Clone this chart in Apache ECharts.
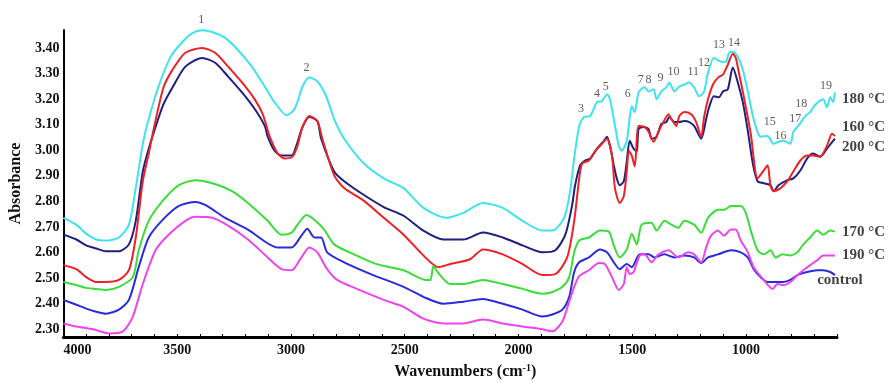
<!DOCTYPE html>
<html>
<head>
<meta charset="utf-8">
<script src="https://cdn.jsdelivr.net/npm/echarts@6/dist/echarts.min.js"></script>
<style>
  html, body { margin: 0; background: #fff; }
  #chart { width: 893px; height: 385px; }
</style>
</head>
<body>
<div id="chart"></div>
<script>
// FTIR spectra, [wavenumber cm-1, absorbance]
const s180 = [[4000,2.736],[3943,2.709],[3900,2.674],[3856,2.651],[3813,2.647],[3756,2.659],[3712,2.709],[3682,2.852],[3651,3.025],[3625,3.122],[3582,3.249],[3529,3.365],[3477,3.423],[3433,3.458],[3390,3.469],[3346,3.462],[3289,3.439],[3233,3.392],[3172,3.327],[3115,3.249],[3072,3.188],[3019,3.137],[2984,3.161],[2949,3.249],[2919,3.284],[2884,3.269],[2845,3.211],[2810,3.122],[2766,3.045],[2679,2.948],[2592,2.890],[2505,2.852],[2418,2.775],[2317,2.736],[2243,2.755],[2156,2.794],[2069,2.775],[1982,2.724],[1895,2.686],[1851,2.686],[1799,2.736],[1773,2.840],[1755,2.968],[1733,3.095],[1712,3.130],[1685,3.134],[1655,3.188],[1633,3.192],[1611,3.219],[1598,3.199],[1581,3.122],[1559,3.018],[1546,2.998],[1524,3.037],[1511,3.130],[1502,3.172],[1489,3.149],[1472,3.226],[1446,3.246],[1428,3.230],[1406,3.238],[1393,3.199],[1372,3.230],[1350,3.246],[1337,3.265],[1315,3.230],[1293,3.249],[1271,3.257],[1249,3.265],[1228,3.246],[1206,3.211],[1184,3.230],[1167,3.303],[1141,3.361],[1110,3.346],[1088,3.346],[1075,3.381],[1058,3.385],[1036,3.365],[1014,3.315],[992,3.230],[970,3.134],[949,3.072],[936,3.053],[905,3.056],[879,3.025],[857,3.033],[835,3.037],[805,3.025],[792,3.072],[770,3.095],[739,3.134],[718,3.149],[705,3.168],[683,3.188],[661,3.199],[644,3.168],[630,3.207],[617,3.188],[609,3.226]]

const s160 = [[4000,2.551],[3943,2.535],[3900,2.504],[3856,2.485],[3813,2.485],[3756,2.493],[3712,2.531],[3682,2.659],[3651,2.879],[3625,2.987],[3603,3.083],[3560,3.246],[3520,3.315],[3464,3.381],[3390,3.400],[3333,3.381],[3276,3.327],[3215,3.265],[3159,3.199],[3124,3.141],[3093,3.053],[3058,2.987],[3028,2.968],[2993,2.975],[2971,3.018],[2949,3.091],[2919,3.134],[2884,3.114],[2862,3.045],[2810,2.902],[2766,2.852],[2679,2.802],[2592,2.736],[2505,2.670],[2418,2.589],[2352,2.543],[2300,2.555],[2213,2.574],[2156,2.612],[2069,2.593],[1982,2.555],[1895,2.512],[1838,2.516],[1786,2.581],[1755,2.724],[1733,2.890],[1720,2.948],[1690,2.960],[1664,2.995],[1633,3.025],[1611,3.045],[1589,2.979],[1576,2.852],[1555,2.794],[1537,2.821],[1524,2.917],[1515,2.998],[1502,2.979],[1489,2.937],[1472,3.095],[1446,3.091],[1428,3.072],[1406,3.033],[1385,3.072],[1363,3.110],[1341,3.141],[1328,3.122],[1306,3.095],[1293,3.134],[1271,3.149],[1241,3.141],[1219,3.110],[1197,3.053],[1184,3.130],[1167,3.199],[1145,3.257],[1123,3.284],[1101,3.296],[1080,3.334],[1058,3.377],[1045,3.361],[1032,3.307],[1010,3.211],[979,3.064],[949,2.890],[922,2.921],[905,2.941],[892,2.859],[879,2.840],[848,2.852],[818,2.879],[792,2.917],[761,2.960],[731,2.979],[705,2.979],[674,2.975],[644,3.018],[622,3.064],[609,3.056]]

const s200 = [[4000,2.670],[3943,2.651],[3900,2.628],[3856,2.616],[3813,2.605],[3756,2.605],[3712,2.632],[3682,2.724],[3651,2.917],[3625,3.006],[3595,3.091],[3560,3.180],[3520,3.246],[3464,3.327],[3390,3.361],[3333,3.342],[3276,3.288],[3215,3.226],[3159,3.161],[3115,3.095],[3102,3.053],[3072,2.998],[3041,2.979],[2997,2.979],[2976,3.018],[2949,3.091],[2919,3.130],[2884,3.114],[2867,3.045],[2810,2.917],[2766,2.879],[2679,2.825],[2592,2.778],[2505,2.744],[2418,2.686],[2330,2.651],[2243,2.651],[2156,2.678],[2069,2.659],[1982,2.628],[1895,2.601],[1838,2.609],[1794,2.670],[1764,2.786],[1751,2.863],[1729,2.941],[1707,2.960],[1685,2.968],[1655,3.006],[1624,3.037],[1611,3.053],[1598,3.018],[1581,2.941],[1568,2.890],[1555,2.863],[1537,2.879],[1524,2.956],[1511,3.037],[1494,3.006],[1480,2.995],[1472,3.083],[1450,3.091],[1428,3.083],[1415,3.045],[1393,3.053],[1372,3.103],[1350,3.110],[1337,3.130],[1315,3.110],[1293,3.110],[1271,3.114],[1249,3.110],[1228,3.095],[1197,3.045],[1175,3.122],[1162,3.168],[1141,3.211],[1119,3.207],[1101,3.230],[1080,3.238],[1058,3.323],[1036,3.265],[1014,3.188],[992,3.076],[970,2.948],[949,2.879],[922,2.871],[892,2.863],[879,2.840],[857,2.863],[818,2.883],[792,2.890],[761,2.921],[731,2.968],[705,2.987],[674,2.975],[644,3.006],[617,3.037],[609,3.045]]

const s170 = [[4000,2.485],[3943,2.473],[3900,2.462],[3856,2.458],[3813,2.454],[3756,2.466],[3695,2.504],[3669,2.609],[3625,2.724],[3564,2.802],[3494,2.863],[3420,2.883],[3346,2.871],[3259,2.840],[3189,2.794],[3102,2.724],[3041,2.670],[2997,2.678],[2971,2.709],[2932,2.747],[2897,2.728],[2854,2.690],[2810,2.632],[2723,2.593],[2623,2.555],[2505,2.531],[2405,2.493],[2387,2.493],[2374,2.547],[2352,2.520],[2300,2.477],[2243,2.477],[2156,2.493],[2069,2.477],[1982,2.458],[1895,2.439],[1851,2.446],[1807,2.466],[1777,2.504],[1755,2.601],[1733,2.647],[1690,2.659],[1642,2.686],[1603,2.682],[1581,2.628],[1555,2.581],[1524,2.612],[1502,2.674],[1480,2.632],[1459,2.709],[1415,2.717],[1393,2.686],[1358,2.724],[1328,2.709],[1297,2.697],[1271,2.724],[1228,2.709],[1197,2.678],[1167,2.736],[1123,2.767],[1097,2.767],[1066,2.782],[1023,2.782],[1001,2.755],[979,2.686],[949,2.609],[922,2.593],[892,2.609],[870,2.581],[840,2.593],[805,2.589],[774,2.601],[748,2.632],[718,2.659],[687,2.686],[661,2.670],[630,2.686],[609,2.682]]

const s190 = [[4000,2.323],[3943,2.311],[3869,2.300],[3799,2.284],[3738,2.292],[3695,2.350],[3651,2.477],[3595,2.609],[3538,2.670],[3464,2.724],[3420,2.740],[3346,2.736],[3276,2.705],[3189,2.651],[3102,2.581],[3041,2.535],[2997,2.531],[2954,2.581],[2919,2.620],[2884,2.601],[2841,2.535],[2797,2.493],[2710,2.458],[2592,2.415],[2505,2.388],[2418,2.342],[2330,2.323],[2243,2.323],[2156,2.338],[2069,2.323],[1982,2.311],[1895,2.300],[1851,2.292],[1807,2.331],[1777,2.408],[1755,2.466],[1733,2.508],[1690,2.531],[1646,2.559],[1620,2.555],[1589,2.504],[1559,2.454],[1537,2.477],[1524,2.543],[1511,2.516],[1494,2.524],[1467,2.589],[1446,2.593],[1415,2.562],[1385,2.593],[1341,2.609],[1297,2.581],[1254,2.601],[1228,2.593],[1197,2.562],[1175,2.620],[1154,2.666],[1123,2.686],[1097,2.666],[1066,2.690],[1045,2.690],[1023,2.647],[992,2.601],[966,2.543],[922,2.493],[883,2.458],[862,2.477],[835,2.473],[805,2.485],[774,2.512],[748,2.531],[718,2.551],[687,2.570],[661,2.589],[630,2.589],[609,2.589]]

const control = [[4000,2.415],[3943,2.396],[3900,2.381],[3856,2.369],[3813,2.361],[3756,2.377],[3712,2.415],[3669,2.543],[3625,2.659],[3564,2.728],[3494,2.782],[3420,2.798],[3377,2.786],[3289,2.736],[3189,2.690],[3058,2.620],[2997,2.620],[2954,2.666],[2928,2.693],[2897,2.659],[2867,2.659],[2841,2.601],[2766,2.562],[2649,2.516],[2505,2.466],[2418,2.427],[2330,2.400],[2243,2.408],[2156,2.419],[2069,2.400],[1982,2.377],[1895,2.350],[1851,2.358],[1807,2.377],[1777,2.427],[1755,2.524],[1733,2.562],[1690,2.581],[1642,2.612],[1611,2.601],[1581,2.562],[1555,2.535],[1524,2.555],[1502,2.543],[1467,2.593],[1428,2.593],[1402,2.581],[1358,2.593],[1315,2.581],[1271,2.589],[1228,2.581],[1197,2.559],[1167,2.581],[1123,2.593],[1066,2.609],[1023,2.601],[992,2.581],[966,2.535],[936,2.504],[905,2.485],[879,2.485],[835,2.485],[805,2.493],[774,2.512],[731,2.524],[687,2.531],[661,2.531],[630,2.524],[609,2.512]]

// peak numbers [label, wavenumber, absorbance where the number sits]
const peakLabels = [['1',3394,3.508],['2',2932,3.323],['3',1725,3.161],['4',1655,3.222],['5',1616,3.249],['6',1520,3.219],['7',1463,3.276],['8',1428,3.276],['9',1376,3.284],['10',1319,3.307],['11',1232,3.307],['12',1184,3.342],['13',1119,3.412],['14',1053,3.419],['15',896,3.110],['16',848,3.056],['17',783,3.122],['18',757,3.180],['19',648,3.253]]

// curve names at the right end
const curveLabels = [['180 °C',600,3.199],['160 °C',600,3.091],['200 °C',600,3.014],['170 °C',600,2.678],['190 °C',600,2.589],['control',709,2.493]]

const xLabelTicks = [4000, 3500, 3000, 2500, 2000, 1500, 1000]
const xMinorTicks = [4000,3900,3800,3700,3600,3500,3400,3300,3200,3100,3000,2900,2800,2700,2600,2500,2400,2300,2200,2100,2000,1900,1800,1700,1600,1500,1400,1300,1200,1100,1000,900,800,700,600]
const yTicks = [2.30, 2.40, 2.50, 2.60, 2.70, 2.80, 2.90, 3.00, 3.10, 3.20, 3.30, 3.40]

const serif = '"Liberation Serif", "DejaVu Serif", serif'

const chart = echarts.init(document.getElementById('chart'))

const curves = [
  { name: '180 °C', data: s180, color: '#3fe3ee' },
  { name: '200 °C', data: s200, color: '#1f1f7f' },
  { name: '160 °C', data: s160, color: '#ec2226' },
  { name: '170 °C', data: s170, color: '#3bdc3b' },
  { name: 'control', data: control, color: '#2b2bdc' },
  { name: '190 °C', data: s190, color: '#ee44ee' }
]

const option = {
  animation: false,
  backgroundColor: '#fff',
  grid: { left: 57, right: 56, top: 30, bottom: 44 },
  xAxis: {
    type: 'value',
    min: 600,
    max: 4000,
    inverse: true,
    name: '{a|Wavenumbers (cm}{s|-1}{a|)}',
    nameLocation: 'middle',
    nameGap: 26,
    nameTextStyle: {
      padding: [0, 0, 0, 30],
      rich: {
        a: { fontFamily: serif, fontWeight: 'bold', fontSize: 16, color: '#111' },
        s: { fontFamily: serif, fontWeight: 'bold', fontSize: 10, color: '#111', padding: [0, 0, 8, 0] }
      }
    },
    axisLine: { lineStyle: { color: '#000', width: 3 } },
    axisTick: { inside: true, length: 3, customValues: xMinorTicks, lineStyle: { color: '#000', width: 1 } },
    axisLabel: {
      customValues: xLabelTicks,
      formatter: (v) => String(v),
      alignMinLabel: 'left',
      margin: 6,
      fontFamily: serif,
      fontWeight: 'bold',
      fontSize: 14,
      color: '#111'
    },
    splitLine: { show: false }
  },
  yAxis: {
    type: 'value',
    min: 2.27,
    max: 3.47,
    name: 'Absorbance',
    nameLocation: 'middle',
    nameGap: 31,
    nameRotate: 90,
    nameTextStyle: { fontFamily: serif, fontWeight: 'bold', fontSize: 16, color: '#111' },
    axisLine: { show: true, lineStyle: { color: '#000', width: 2 } },
    axisTick: { show: false },
    axisLabel: {
      customValues: yTicks,
      formatter: (v) => v.toFixed(2),
      margin: 4,
      fontFamily: serif,
      fontWeight: 'bold',
      fontSize: 14,
      color: '#111'
    },
    splitLine: { show: false }
  },
  series: [
    ...curves.map(c => ({
      name: c.name,
      type: 'line',
      data: c.data,
      showSymbol: false,
      smooth: 0.25,
      lineStyle: { color: c.color, width: 2 },
      itemStyle: { color: c.color }
    })),
    {
      name: 'peaks',
      type: 'scatter',
      clip: false,
      silent: true,
      symbolSize: 0,
      data: peakLabels.map(p => ({ name: p[0], value: [p[1], p[2]] })),
      label: {
        show: true,
        position: 'inside',
        formatter: (p) => p.name,
        fontFamily: serif,
        fontSize: 12,
        color: '#333'
      }
    },
    {
      name: 'curveNames',
      type: 'scatter',
      clip: false,
      silent: true,
      symbolSize: 0,
      data: curveLabels.map(p => ({ name: p[0], value: [p[1], p[2]] })),
      label: {
        show: true,
        position: 'right',
        distance: 5,
        formatter: (p) => p.name,
        fontFamily: serif,
        fontWeight: 'bold',
        fontSize: 15,
        color: '#111'
      }
    }
  ]
}

chart.setOption(option)
</script>
</body>
</html>
